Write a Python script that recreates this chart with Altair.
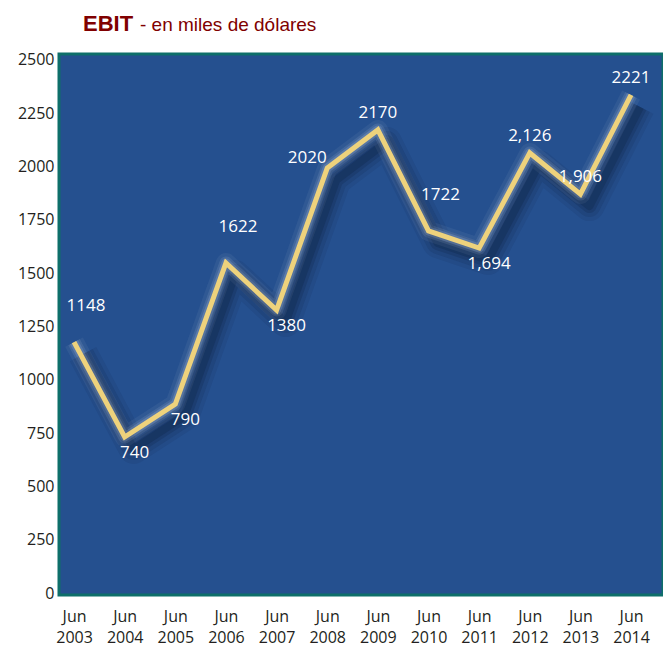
import altair as alt
import pandas as pd

years = ["2003", "2004", "2005", "2006", "2007", "2008",
         "2009", "2010", "2011", "2012", "2013", "2014"]
# EBIT as drawn by the line
ebit_line = [1177, 732, 886, 1548, 1327, 1993, 2172, 1698, 1618, 2064, 1871, 2336]
# value labels as printed on the chart
ebit_labels = ["1148", "740", "790", "1622", "1380", "2020",
               "2170", "1722", "1,694", "2,126", "1,906", "2221"]
y_ticks = [0, 250, 500, 750, 1000, 1250, 1500, 1750, 2000, 2250, 2500]

# label placement groups (style)
placement = {
    "2003": "far", "2004": "below", "2005": "below", "2006": "far",
    "2007": "below", "2008": "left", "2009": "above", "2010": "far",
    "2011": "below", "2012": "above", "2013": "above", "2014": "above",
}
group_style = {
    "far": dict(dx=12, dy=-36),
    "above": dict(dx=0, dy=-17),
    "below": dict(dx=10, dy=16),
    "left": dict(dx=-20, dy=-10),
}

df = pd.DataFrame({"year": years, "ebit": ebit_line, "label": ebit_labels})
df["place"] = df["year"].map(placement)

x_enc = alt.X("year:O", scale=alt.Scale(type="point", padding=0.464, align=0.32),
              axis=alt.Axis(title=None, labelExpr="['Jun', datum.value]",
                            labelAngle=0, labelPadding=13, labelLineHeight=21,
                            labelFontSize=16, labelFont="Open Sans",
                            labelColor="#231f20", domain=False, ticks=False,
                            grid=False))
y_enc = alt.Y("ebit:Q", scale=alt.Scale(domain=[-9, 2528], nice=False, zero=False),
              axis=alt.Axis(title=None, values=y_ticks, format="d", labelFontSize=16,
                            labelFont="Open Sans", labelColor="#231f20",
                            labelPadding=5, domain=False, ticks=False, grid=False))

base = alt.Chart(df).encode(x=x_enc, y=y_enc)

layers = []
for w, op in [(30, 0.07), (22, 0.10), (14, 0.15), (8, 0.18)]:
    layers.append(base.mark_line(color="#08152b", strokeWidth=w, opacity=op,
                                 xOffset=9, yOffset=12, strokeJoin="round"))
for w, op in [(20, 0.06), (13, 0.10), (9, 0.15)]:
    layers.append(base.mark_line(color="#e6ecf5", strokeWidth=w, opacity=op,
                                 strokeJoin="round"))
layers.append(base.mark_line(color="#eed27c", strokeWidth=5, strokeJoin="miter"))

for g, st in group_style.items():
    layers.append(
        base.transform_filter(alt.datum.place == g)
        .mark_text(color="white", fontSize=17, font="Open Sans",
                   baseline="middle", align="center", **st)
        .encode(text="label:N")
    )

title_bold = alt.Chart(pd.DataFrame({"t": ["EBIT"]})).mark_text(
    font="Liberation Sans", fontSize=22, fontWeight="bold", color="#800000",
    align="left", baseline="alphabetic"
).encode(x=alt.value(24), y=alt.value(-23), text="t:N")
title_rest = alt.Chart(pd.DataFrame({"t": ["- en miles de dólares"]})).mark_text(
    font="Liberation Sans", fontSize=19, color="#800000",
    align="left", baseline="alphabetic"
).encode(x=alt.value(81), y=alt.value(-23), text="t:N")
layers += [title_bold, title_rest]

chart = alt.layer(*layers).properties(
    width=604, height=541,
    autosize=alt.AutoSizeParams(type="none"),
    padding={"left": 51, "top": 46, "right": 0, "bottom": 53},
    background="white",
).configure_view(fill="#25508f", stroke="#0e6f6a", strokeWidth=3)

chart.save("out.html", embed_options={"renderer": "svg", "actions": False})
